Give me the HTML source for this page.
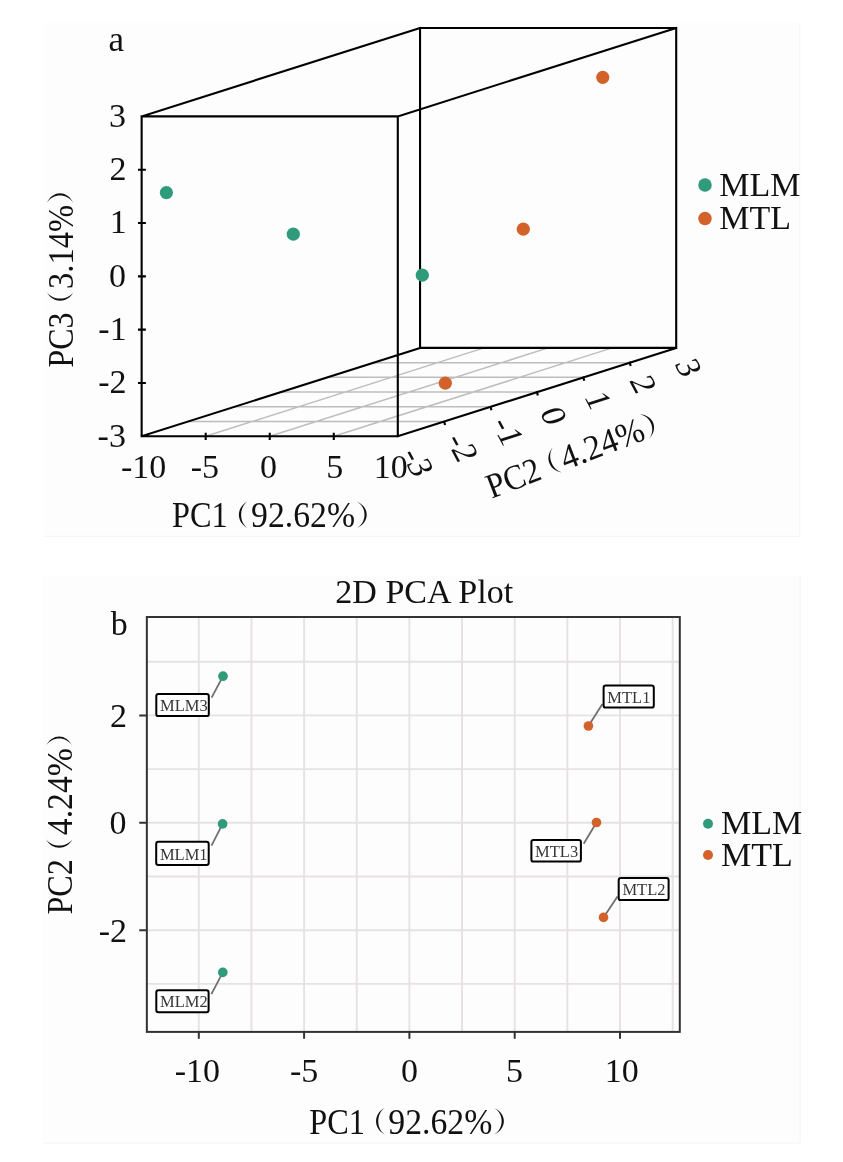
<!DOCTYPE html>
<html><head><meta charset="utf-8"><style>
html,body{margin:0;padding:0;background:#fff;}
svg{display:block;will-change:transform;}
</style></head><body>
<svg width="843" height="1162" viewBox="0 0 843 1162">
<rect x="44" y="22.7" width="756" height="513.8" fill="#fdfdfd"/>
<rect x="43" y="576" width="757.5" height="567.5" fill="#fdfdfd"/>
<path d="M44 536.3H800M799.7 22.7V536.5M43 1143.2H800.5M800.2 576V1143.5" stroke="#f5f5f5" stroke-width="1" fill="none"/>
<path d="M188.05 421.57L444.20 421.57M234.45 406.83L490.60 406.83M280.85 392.10L537.00 392.10M327.25 377.37L583.40 377.37M373.65 362.63L629.80 362.63M205.69 436.30L484.09 347.90M269.73 436.30L548.12 347.90M333.76 436.30L612.16 347.90" stroke="#bdbdbd" stroke-width="1.5" fill="none"/>
<path d="M141.65 436.30L397.80 436.30M397.80 436.30L397.80 116.40M397.80 116.40L141.65 116.40M141.65 116.40L141.65 436.30M420.05 28.00L676.20 28.00M420.05 28.00L420.05 347.90M676.20 28.00L676.20 347.90M420.05 347.90L676.20 347.90M141.65 116.40L420.05 28.00M397.80 116.40L676.20 28.00M141.65 436.30L420.05 347.90M397.80 436.30L676.20 347.90M139.05 382.98L144.85 382.98M139.05 329.67L144.85 329.67M139.05 276.35L144.85 276.35M139.05 223.03L144.85 223.03M139.05 169.72L144.85 169.72M205.69 433.70L205.69 438.90M269.73 433.70L269.73 438.90M333.76 433.70L333.76 438.90M444.20 421.57L444.80 423.97M490.60 406.83L491.20 409.23M537.00 392.10L537.60 394.50M583.40 377.37L584.00 379.77M629.80 362.63L630.40 365.03" stroke="#000" stroke-width="2.1" fill="none" stroke-linecap="square"/>
<circle cx="166.4" cy="192.6" r="6.6" fill="#2f9b7b"/>
<circle cx="293.3" cy="234.2" r="6.6" fill="#2f9b7b"/>
<circle cx="422.3" cy="275.2" r="6.6" fill="#2f9b7b"/>
<circle cx="602.75" cy="77.3" r="6.6" fill="#d2622a"/>
<circle cx="523.3" cy="229.2" r="6.6" fill="#d2622a"/>
<circle cx="445.3" cy="383.2" r="6.6" fill="#d2622a"/>
<text x="108.57" y="50.50" font-size="35" font-family="Liberation Serif, serif" fill="#111111" >a</text>
<text x="97.61" y="446.60" font-size="34" font-family="Liberation Serif, serif" fill="#111111">-3</text>
<text x="98.15" y="393.28" font-size="34" font-family="Liberation Serif, serif" fill="#111111">-2</text>
<text x="98.32" y="339.97" font-size="34" font-family="Liberation Serif, serif" fill="#111111">-1</text>
<text x="108.89" y="286.65" font-size="34" font-family="Liberation Serif, serif" fill="#111111">0</text>
<text x="109.64" y="233.33" font-size="34" font-family="Liberation Serif, serif" fill="#111111">1</text>
<text x="109.48" y="180.02" font-size="34" font-family="Liberation Serif, serif" fill="#111111">2</text>
<text x="108.93" y="126.70" font-size="34" font-family="Liberation Serif, serif" fill="#111111">3</text>
<text x="120.94" y="478.20" font-size="34" font-family="Liberation Serif, serif" fill="#111111" >-10</text>
<text x="190.74" y="478.20" font-size="34" font-family="Liberation Serif, serif" fill="#111111" >-5</text>
<text x="260.01" y="478.20" font-size="34" font-family="Liberation Serif, serif" fill="#111111" >0</text>
<text x="326.32" y="478.20" font-size="34" font-family="Liberation Serif, serif" fill="#111111" >5</text>
<text x="373.71" y="478.20" font-size="34" font-family="Liberation Serif, serif" fill="#111111" >10</text>
<g transform="translate(173.00 527.20) rotate(0)"><text x="-0.93" y="0.00" font-size="35" font-family="Liberation Serif, serif" fill="#111111" textLength="55.67" lengthAdjust="spacingAndGlyphs" >PC1</text><path d="M74.40 -25.60C63.07 -19.81 63.07 -5.09 74.40 0.70C66.00 -5.09 66.00 -19.81 74.40 -25.60Z" fill="#111111"/><text x="78.11" y="0.00" font-size="35" font-family="Liberation Serif, serif" fill="#111111" textLength="103.94" lengthAdjust="spacingAndGlyphs" >92.62%</text><path d="M183.90 -25.80C196.97 -19.97 196.97 -5.13 183.90 0.70C194.03 -5.13 194.03 -19.97 183.90 -25.80Z" fill="#111111"/></g>
<g transform="translate(72.60 366.60) rotate(-90)"><text x="-0.92" y="0.00" font-size="35" font-family="Liberation Serif, serif" fill="#111111" textLength="54.96" lengthAdjust="spacingAndGlyphs" >PC3</text><path d="M74.40 -25.60C63.07 -19.81 63.07 -5.09 74.40 0.70C66.00 -5.09 66.00 -19.81 74.40 -25.60Z" fill="#111111"/><text x="77.64" y="0.00" font-size="35" font-family="Liberation Serif, serif" fill="#111111" textLength="83.97" lengthAdjust="spacingAndGlyphs" >3.14%</text><path d="M163.50 -25.80C176.57 -19.97 176.57 -5.13 163.50 0.70C173.63 -5.13 173.63 -19.97 163.50 -25.80Z" fill="#111111"/></g>
<g transform="translate(420.40 467.50) matrix(0.4695 0.8829 -0.9511 0.3090 0 0)"><text x="-19.97" y="11.09" font-size="34" font-family="Liberation Serif, serif" fill="#111111">-3</text></g>
<g transform="translate(465.00 452.50) matrix(0.4695 0.8829 -0.9511 0.3090 0 0)"><text x="-19.63" y="11.26" font-size="34" font-family="Liberation Serif, serif" fill="#111111">-2</text></g>
<g transform="translate(511.00 437.00) matrix(0.4695 0.8829 -0.9511 0.3090 0 0)"><text x="-20.30" y="11.22" font-size="34" font-family="Liberation Serif, serif" fill="#111111">-1</text></g>
<g transform="translate(553.50 415.70) matrix(0.4695 0.8829 -0.9511 0.3090 0 0)"><text x="-8.50" y="11.14" font-size="34" font-family="Liberation Serif, serif" fill="#111111">0</text></g>
<g transform="translate(598.60 400.70) matrix(0.4695 0.8829 -0.9511 0.3090 0 0)"><text x="-8.97" y="11.22" font-size="34" font-family="Liberation Serif, serif" fill="#111111">1</text></g>
<g transform="translate(643.40 384.00) matrix(0.4695 0.8829 -0.9511 0.3090 0 0)"><text x="-8.31" y="11.26" font-size="34" font-family="Liberation Serif, serif" fill="#111111">2</text></g>
<g transform="translate(688.50 367.60) matrix(0.4695 0.8829 -0.9511 0.3090 0 0)"><text x="-8.65" y="11.09" font-size="34" font-family="Liberation Serif, serif" fill="#111111">3</text></g>
<g transform="translate(492.30 498.30) rotate(-21)"><text x="-0.93" y="0.00" font-size="35" font-family="Liberation Serif, serif" fill="#111111" textLength="55.51" lengthAdjust="spacingAndGlyphs" >PC2</text><path d="M74.40 -25.60C63.07 -19.81 63.07 -5.09 74.40 0.70C66.00 -5.09 66.00 -19.81 74.40 -25.60Z" fill="#111111"/><text x="78.54" y="0.00" font-size="35" font-family="Liberation Serif, serif" fill="#111111" textLength="87.11" lengthAdjust="spacingAndGlyphs" >4.24%</text><path d="M167.50 -25.80C180.57 -19.97 180.57 -5.13 167.50 0.70C177.63 -5.13 177.63 -19.97 167.50 -25.80Z" fill="#111111"/></g>
<circle cx="705" cy="185.1" r="6.75" fill="#2f9b7b"/>
<circle cx="705" cy="218.6" r="6.75" fill="#d2622a"/>
<text x="719.22" y="195.60" font-size="34" font-family="Liberation Serif, serif" fill="#111111" >MLM</text>
<text x="719.22" y="228.70" font-size="34" font-family="Liberation Serif, serif" fill="#111111" >MTL</text>
<path d="M198.80 617.0L198.80 1031.9M251.45 617.0L251.45 1031.9M304.10 617.0L304.10 1031.9M356.75 617.0L356.75 1031.9M409.40 617.0L409.40 1031.9M462.05 617.0L462.05 1031.9M514.70 617.0L514.70 1031.9M567.35 617.0L567.35 1031.9M620.00 617.0L620.00 1031.9M672.65 617.0L672.65 1031.9M146.85 983.90L679.8 983.90M146.85 930.20L679.8 930.20M146.85 876.50L679.8 876.50M146.85 822.80L679.8 822.80M146.85 769.10L679.8 769.10M146.85 715.40L679.8 715.40M146.85 661.70L679.8 661.70" stroke="#e6e2e2" stroke-width="1.9" fill="none"/>
<rect x="146.85" y="617.0" width="532.95" height="414.90" fill="none" stroke="#333" stroke-width="2"/>
<path d="M198.80 1031.9L198.80 1038.7M304.10 1031.9L304.10 1038.7M409.40 1031.9L409.40 1038.7M514.70 1031.9L514.70 1038.7M620.00 1031.9L620.00 1038.7M146.85 930.20L139.25 930.20M146.85 822.80L139.25 822.80M146.85 715.40L139.25 715.40" stroke="#333" stroke-width="2"/>
<text x="174.74" y="1082.00" font-size="34" font-family="Liberation Serif, serif" fill="#111111" >-10</text>
<text x="289.97" y="1082.00" font-size="34" font-family="Liberation Serif, serif" fill="#111111">-5</text>
<text x="400.90" y="1082.00" font-size="34" font-family="Liberation Serif, serif" fill="#111111">0</text>
<text x="505.88" y="1082.00" font-size="34" font-family="Liberation Serif, serif" fill="#111111">5</text>
<text x="604.81" y="1082.00" font-size="34" font-family="Liberation Serif, serif" fill="#111111" >10</text>
<text x="98.65" y="941.50" font-size="34" font-family="Liberation Serif, serif" fill="#111111">-2</text>
<text x="109.39" y="834.10" font-size="34" font-family="Liberation Serif, serif" fill="#111111">0</text>
<text x="109.98" y="726.70" font-size="34" font-family="Liberation Serif, serif" fill="#111111">2</text>
<g transform="translate(310.20 1133.70) rotate(0)"><text x="-0.93" y="0.00" font-size="35" font-family="Liberation Serif, serif" fill="#111111" textLength="55.67" lengthAdjust="spacingAndGlyphs" >PC1</text><path d="M74.40 -25.60C63.07 -19.81 63.07 -5.09 74.40 0.70C66.00 -5.09 66.00 -19.81 74.40 -25.60Z" fill="#111111"/><text x="78.11" y="0.00" font-size="35" font-family="Liberation Serif, serif" fill="#111111" textLength="103.94" lengthAdjust="spacingAndGlyphs" >92.62%</text><path d="M183.90 -25.80C196.97 -19.97 196.97 -5.13 183.90 0.70C194.03 -5.13 194.03 -19.97 183.90 -25.80Z" fill="#111111"/></g>
<g transform="translate(71.70 913.70) rotate(-90)"><text x="-0.93" y="0.00" font-size="35" font-family="Liberation Serif, serif" fill="#111111" textLength="55.51" lengthAdjust="spacingAndGlyphs" >PC2</text><path d="M74.40 -25.60C63.07 -19.81 63.07 -5.09 74.40 0.70C66.00 -5.09 66.00 -19.81 74.40 -25.60Z" fill="#111111"/><text x="78.54" y="0.00" font-size="35" font-family="Liberation Serif, serif" fill="#111111" textLength="87.11" lengthAdjust="spacingAndGlyphs" >4.24%</text><path d="M167.50 -25.80C180.57 -19.97 180.57 -5.13 167.50 0.70C177.63 -5.13 177.63 -19.97 167.50 -25.80Z" fill="#111111"/></g>
<text x="335.32" y="603.30" font-size="34" font-family="Liberation Serif, serif" fill="#111111" textLength="177.88" lengthAdjust="spacingAndGlyphs" >2D PCA Plot</text>
<text x="110.70" y="635.30" font-size="34" font-family="Liberation Serif, serif" fill="#111111" >b</text>
<line x1="223" y1="676.2" x2="211.60" y2="697.70" stroke="#716e6e" stroke-width="1.8"/>
<circle cx="223" cy="676.2" r="4.85" fill="#2f9b7b"/>
<rect x="156.3" y="693.9" width="52.50" height="22.20" rx="2.2" fill="#fff" stroke="#000" stroke-width="2"/>
<text x="160.02" y="711.10" font-size="16.5" font-family="Liberation Serif, serif" fill="#383838" >MLM3</text>
<line x1="222.6" y1="823.9" x2="211.50" y2="845.60" stroke="#716e6e" stroke-width="1.8"/>
<circle cx="222.6" cy="823.9" r="4.85" fill="#2f9b7b"/>
<rect x="156.2" y="841.8" width="52.50" height="23.10" rx="2.2" fill="#fff" stroke="#000" stroke-width="2"/>
<text x="159.92" y="859.90" font-size="16.5" font-family="Liberation Serif, serif" fill="#383838" >MLM1</text>
<line x1="222.8" y1="972.4" x2="211.40" y2="994.10" stroke="#716e6e" stroke-width="1.8"/>
<circle cx="222.8" cy="972.4" r="4.85" fill="#2f9b7b"/>
<rect x="156.3" y="990.3" width="52.30" height="21.90" rx="2.2" fill="#fff" stroke="#000" stroke-width="2"/>
<text x="160.02" y="1007.20" font-size="16.5" font-family="Liberation Serif, serif" fill="#383838" >MLM2</text>
<line x1="588.4" y1="726" x2="602.40" y2="704.00" stroke="#716e6e" stroke-width="1.8"/>
<circle cx="588.4" cy="726" r="4.85" fill="#d2622a"/>
<rect x="603.6" y="685.5" width="50.20" height="22.10" rx="2.2" fill="#fff" stroke="#000" stroke-width="2"/>
<text x="607.32" y="702.60" font-size="16.5" font-family="Liberation Serif, serif" fill="#383838" >MTL1</text>
<line x1="596.5" y1="822.5" x2="583.70" y2="843.70" stroke="#716e6e" stroke-width="1.8"/>
<circle cx="596.5" cy="822.5" r="4.85" fill="#d2622a"/>
<rect x="531.4" y="839.9" width="49.50" height="21.70" rx="2.2" fill="#fff" stroke="#000" stroke-width="2"/>
<text x="535.12" y="856.60" font-size="16.5" font-family="Liberation Serif, serif" fill="#383838" >MTL3</text>
<line x1="603.5" y1="917.4" x2="617.50" y2="896.50" stroke="#716e6e" stroke-width="1.8"/>
<circle cx="603.5" cy="917.4" r="4.85" fill="#d2622a"/>
<rect x="618.7" y="878.1" width="49.90" height="22.00" rx="2.2" fill="#fff" stroke="#000" stroke-width="2"/>
<text x="622.42" y="895.10" font-size="16.5" font-family="Liberation Serif, serif" fill="#383838" >MTL2</text>
<circle cx="708" cy="823.7" r="5" fill="#2f9b7b"/>
<circle cx="708" cy="855" r="5" fill="#d2622a"/>
<text x="721.02" y="833.80" font-size="34" font-family="Liberation Serif, serif" fill="#111111" >MLM</text>
<text x="721.02" y="865.50" font-size="34" font-family="Liberation Serif, serif" fill="#111111" >MTL</text>
</svg>
</body></html>
